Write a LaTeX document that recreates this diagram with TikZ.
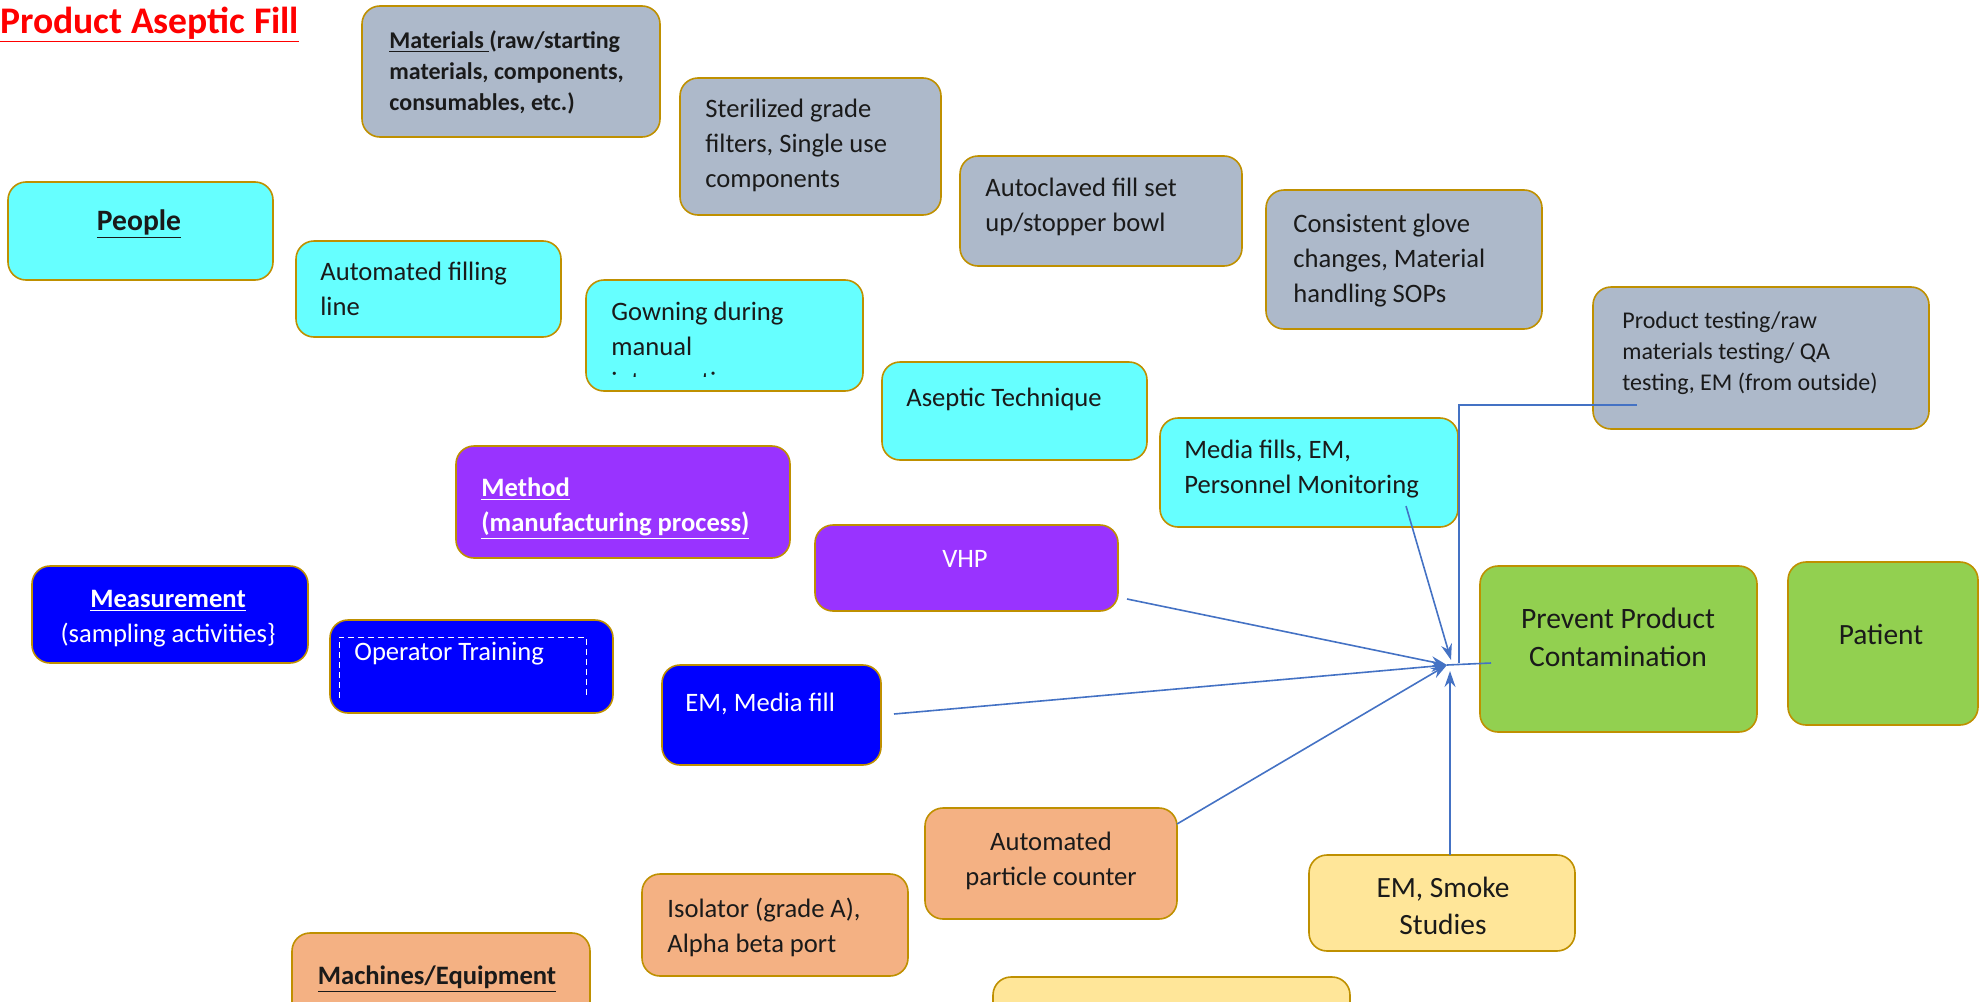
\documentclass[tikz,border=0pt]{standalone}
\usepackage{fontspec}
\setmainfont{Carlito}
\usetikzlibrary{fit,arrows.meta}
\definecolor{bordc}{HTML}{BF9000}
\definecolor{cgray}{HTML}{ADB9CA}
\definecolor{ccyan}{HTML}{66FFFF}
\definecolor{cpurple}{HTML}{9933FF}
\definecolor{cblue}{HTML}{0000FF}
\definecolor{cgreen}{HTML}{92D050}
\definecolor{corange}{HTML}{F4B183}
\definecolor{cyellow}{HTML}{FFE699}
\definecolor{clink}{HTML}{4472C4}
\definecolor{ctext}{HTML}{1A1A1A}
\tikzset{
  box/.style={draw=bordc, line width=0.8pt, rounded corners=9pt, inner sep=0pt},
  txt/.style={anchor=north west, inner sep=0pt, align=left, text=ctext, font=\fontsize{13.3}{17.5}\selectfont},
  ctxt/.style={anchor=north, inner sep=0pt, align=center, text=ctext, font=\fontsize{13.3}{17.5}\selectfont},
  btxt/.style={anchor=base, inner sep=0pt, text=ctext, font=\fontsize{13.3}{17.5}\selectfont},
  conn/.style={draw=clink, line width=0.8pt, -{Stealth[length=8pt,width=5.5pt]}},
  plain/.style={draw=clink, line width=0.8pt},
}
\begin{document}
\begin{tikzpicture}[x=0.5pt,y=-0.5pt]
\useasboundingbox (0,0) rectangle (1985,1001);
\begin{scope}
\clip (0,0) rectangle (1985,1001);
% title
\node[anchor=base west, inner sep=0pt, text=red, font=\fontsize{18.8}{22}\selectfont\bfseries] (title) at (0,33) {\underline{Product Aseptic Fill}};

% grey boxes
\node[box, fill=cgray, fit={(362,6)(660,137)}] (mat) {};
\node[txt, font=\fontsize{12}{15.5}\selectfont\bfseries] (matT) at (389,30) {\underline{Materials }(raw/starting\\materials, components,\\consumables, etc.)};
\node[box, fill=cgray, fit={(680,78)(941,215)}] (ster) {};
\node[txt] (sterT) at (705,99) {Sterilized grade\\filters, Single use\\components};
\node[box, fill=cgray, fit={(960,156)(1242,266)}] (auto) {};
\node[txt] (autoT) at (985,178) {Autoclaved fill set\\up/stopper bowl};
\node[box, fill=cgray, fit={(1266,190)(1542,329)}] (glove) {};
\node[txt] (gloveT) at (1293,214) {Consistent glove\\changes, Material\\handling SOPs};
\node[box, fill=cgray, fit={(1593,287)(1929,429)}] (prod) {};
\node[txt, font=\fontsize{12}{15.7}\selectfont] (prodT) at (1622,311) {Product testing/raw\\materials testing/ QA\\testing, EM (from outside)};

% cyan boxes
\node[box, fill=ccyan, fit={(8,182)(273,280)}] (people) {};
\node[btxt, font=\fontsize{14.8}{17.5}\selectfont\bfseries] (peopleT) at (139,230) {\underline{People}};
\node[box, fill=ccyan, fit={(296,241)(561,337)}] (afl) {};
\node[txt] (aflT) at (320,262) {Automated filling\\line};
\node[box, fill=ccyan, fit={(586,280)(863,391)}] (gown) {};
\begin{scope}
\clip (586,280) rectangle (863,376);
\node[txt] (gownT) at (611,302) {Gowning during\\manual\\interventions};
\end{scope}
\node[box, fill=ccyan, fit={(882,362)(1147,460)}] (asep) {};
\node[txt] (asepT) at (906,388) {Aseptic Technique};
\node[box, fill=ccyan, fit={(1160,418)(1458,527)}] (media) {};
\node[txt] (mediaT) at (1184,440) {Media fills, EM,\\Personnel Monitoring};

% purple boxes
\node[box, fill=cpurple, fit={(456,446)(790,558)}] (meth) {};
\node[txt, text=white, font=\fontsize{13.3}{17.5}\selectfont\bfseries] (methT) at (481,477) {\underline{Method}\\\underline{(manufacturing process)}};
\node[box, fill=cpurple, fit={(815,525)(1118,611)}] (vhp) {};
\node[btxt, text=white] (vhpT) at (965,567) {VHP};

% blue boxes
\node[box, fill=cblue, fit={(32,566)(308,663)}] (meas) {};
\node[ctxt, text=white] (measT) at (168,590) {\textbf{\underline{Measurement}}\\(sampling activities\}};
\node[box, fill=cblue, fit={(330,620)(613,713)}] (oper) {};
\draw[white, densely dashed, line width=0.5pt] (339,698) -- (339,637) -- (586,637) -- (586,698);
\node[txt, text=white] (operT) at (354,642) {Operator Training};
\node[box, fill=cblue, fit={(662,665)(881,765)}] (emmf) {};
\node[txt, text=white] (emmfT) at (685,693) {EM, Media fill};

% green boxes
\node[box, fill=cgreen, fit={(1480,566)(1757,732)}] (prev) {};
\node[ctxt, font=\fontsize{14.8}{19}\selectfont] (prevT) at (1618,608) {Prevent Product\\Contamination};
\node[box, fill=cgreen, fit={(1788,562)(1978,725)}] (pat) {};
\node[btxt, font=\fontsize{14.7}{19}\selectfont] (patT) at (1881,644) {Patient};

% orange boxes
\node[box, fill=corange, fit={(925,808)(1177,919)}] (apc) {};
\node[ctxt] (apcT) at (1051,832) {Automated\\particle counter};
\node[box, fill=corange, fit={(642,874)(908,976)}] (iso) {};
\node[txt] (isoT) at (667,898) {Isolator (grade A),\\Alpha beta port};
\node[box, fill=corange, fit={(292,933)(590,1030)}] (mach) {};
\node[btxt, font=\fontsize{13.3}{17.5}\selectfont\bfseries] (machT) at (437,984) {\underline{Machines/Equipment}};

% yellow boxes
\node[box, fill=cyellow, fit={(1309,855)(1575,951)}] (smoke) {};
\node[ctxt, font=\fontsize{14.7}{18.5}\selectfont] (smokeT) at (1443,877) {EM, Smoke\\Studies};
\node[box, fill=cyellow, fit={(993,977)(1350,1040)}] (yel) {};

% connectors
\coordinate (hub) at (1447,665);
\coordinate (vhpS) at (1127,599);
\coordinate (emmfS) at (894,714);
\coordinate (apcS) at (1177,824);
\coordinate (mediaS) at (1406,506);
\coordinate (mediaE) at (1451,660);
\coordinate (smokeS) at (1450,855);
\coordinate (smokeE) at (1450,671);
\coordinate (prodS) at (1637,405);
\coordinate (prodE) at (1459,663);
\coordinate (prevE) at (1491,663);
\draw[plain] (prodS) -| (prodE);
\draw[plain] (hub) -- (prevE);
\draw[conn] (vhpS) -- (hub);
\draw[conn] (emmfS) -- (hub);
\draw[conn] (apcS) -- (hub);
\draw[conn] (mediaS) -- (mediaE);
\draw[conn] (smokeS) -- (smokeE);
\end{scope}
\end{tikzpicture}
\end{document}
